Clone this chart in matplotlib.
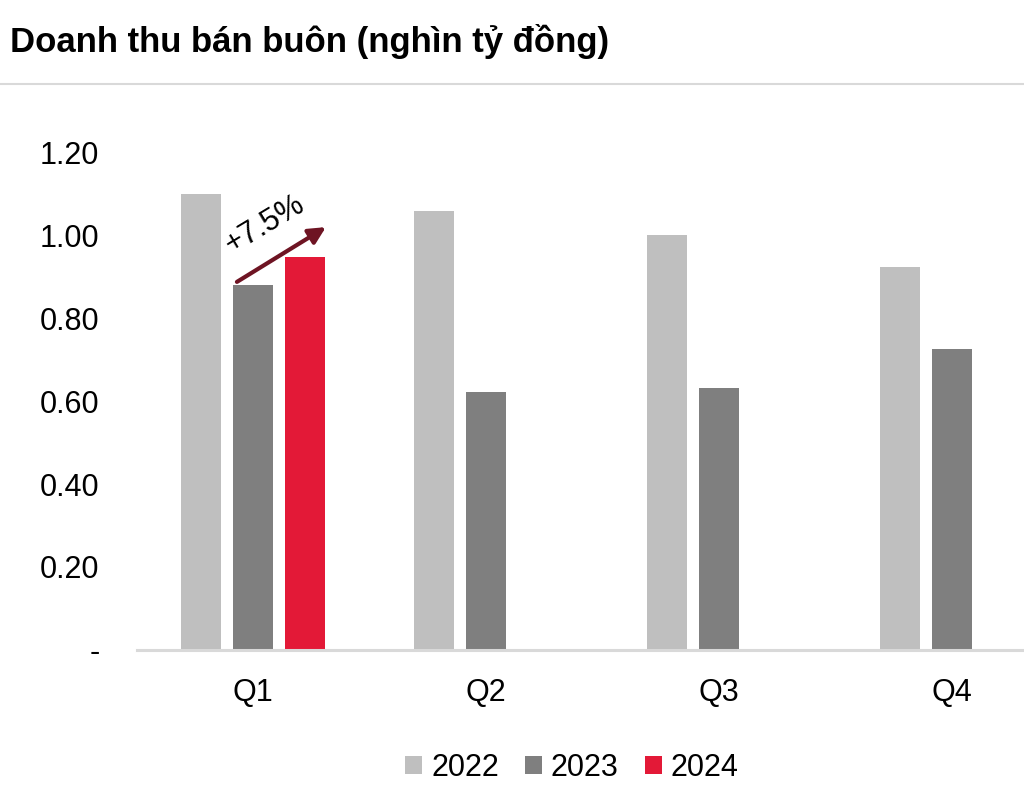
import matplotlib
matplotlib.use("Agg")
import matplotlib.pyplot as plt
import numpy as np
from matplotlib.font_manager import fontManager

# Dữ liệu
quy = ["Q1", "Q2", "Q3", "Q4"]
nam = ["2022", "2023", "2024"]
doanh_thu_2022 = [1.10, 1.058, 1.00, 0.923]
doanh_thu_2023 = [0.880, 0.622, 0.631, 0.725]
doanh_thu_2024 = [0.946, None, None, None]
mau = ["#bfbfbf", "#7f7f7f", "#e31937"]
nhan_tang = "+7.5%"

co_san = {f.name for f in fontManager.ttflist}
font_chinh = "Liberation Sans Narrow" if "Liberation Sans Narrow" in co_san else "Liberation Sans"
plt.rcParams['font.family'] = [font_chinh, "DejaVu Sans"]

fig = plt.figure(figsize=(10.24, 8.08), dpi=100)
ax = fig.add_axes([137 / 1024, 1 - 650 / 808, 1 - 137 / 1024, (650 - 110.5) / 808])

x = np.arange(len(quy))
rong = 0.172
lech = 0.223
for i, (ds, m) in enumerate(zip([doanh_thu_2022, doanh_thu_2023, doanh_thu_2024], mau)):
    xs = [xx + (i - 1) * lech for xx, v in zip(x, ds) if v is not None]
    vs = [v for v in ds if v is not None]
    ax.bar(xs, vs, width=rong, color=m, label=nam[i], zorder=2)

ax.set_xlim(-0.498, 3.31)
ax.set_ylim(0, 1.3)
ax.set_yticks([0, 0.2, 0.4, 0.6, 0.8, 1.0, 1.2])
ax.set_yticklabels(["-", "0.20", "0.40", "0.60", "0.80", "1.00", "1.20"])
ax.set_xticks(x)
ax.set_xticklabels(quy)
ax.tick_params(axis='y', length=0, pad=27, labelsize=22)
ax.tick_params(axis='x', length=0, pad=20, labelsize=22)
for s in ["top", "right", "left"]:
    ax.spines[s].set_visible(False)
ax.spines["bottom"].set_color("#d9d9d9")
ax.spines["bottom"].set_linewidth(2.2)
ax.spines["bottom"].set_zorder(3)

# Mũi tên tăng trưởng
ax.annotate("", xy=(0.313, 1.019), xytext=(-0.069, 0.887),
            arrowprops=dict(arrowstyle="-|>,head_length=1.0,head_width=0.5",
                            color="#6e1423", lw=3, shrinkA=0, shrinkB=0))
ax.text(0.05, 1.025, nhan_tang, rotation=31, fontsize=22, ha="center", va="center",
        rotation_mode="anchor")

# Tiêu đề
fig.text(10 / 1024, 1 - 52 / 808, "Doanh thu bán buôn (nghìn tỷ đồng)",
         fontsize=25, fontweight="bold", va="baseline", ha="left")
fig.add_artist(plt.Line2D([0, 1], [1 - 84 / 808, 1 - 84 / 808], color="#d9d9d9", lw=1.5))

fig.legend(loc="center", bbox_to_anchor=(572 / 1024, 1 - 768 / 808), ncol=3, frameon=False,
           fontsize=22, handlelength=0.55, handleheight=0.55, handletextpad=0.3,
           columnspacing=0.85)

fig.savefig("out.png", dpi=100)
